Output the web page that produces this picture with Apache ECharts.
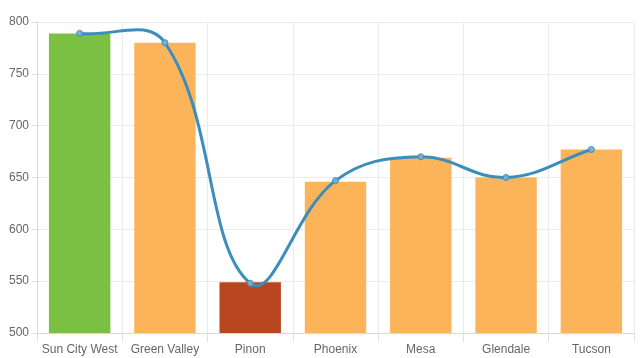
<!DOCTYPE html>
<html><head><meta charset="utf-8">
<script src="https://cdn.jsdelivr.net/npm/echarts@6/dist/echarts.min.js"></script>
<style>html,body{margin:0;padding:0;background:#fff}#c{width:640px;height:358px}</style>
</head><body><div id="c"></div>
<script>
var categories = ["Sun City West","Green Valley","Pinon","Phoenix","Mesa","Glendale","Tucson"];
var barValues = [789, 780, 549, 646, 669, 650, 677];
var lineValues = [789, 780, 548, 647, 670, 650, 677];
var barColors = ["#7bc043","#fbb45a","#b9461f","#fbb45a","#fbb45a","#fbb45a","#fbb45a"];
var yTicks = {min:500, max:800, interval:50};
var tension = 0.4;
var lineColor = '#3c8dbc';

function pt(api, i){ var c = api.coord([i, lineValues[i]]); return {x:c[0], y:c[1]}; }
function ctrl(api, i){
  var n = lineValues.length;
  var cur = pt(api, i);
  var prev = i > 0 ? pt(api, i-1) : cur;
  var next = i < n-1 ? pt(api, i+1) : cur;
  var d01 = Math.hypot(cur.x-prev.x, cur.y-prev.y);
  var d12 = Math.hypot(next.x-cur.x, next.y-cur.y);
  var s = d01 + d12 || 1;
  var fa = tension*d01/s, fb = tension*d12/s;
  return {
    px: cur.x - fa*(next.x-prev.x), py: cur.y - fa*(next.y-prev.y),
    nx: cur.x + fb*(next.x-prev.x), ny: cur.y + fb*(next.y-prev.y),
    x: cur.x, y: cur.y
  };
}

var chart = echarts.init(document.getElementById('c'));
chart.setOption({
  animation:false,
  grid:{left:37, right:6, top:22, bottom:25, containLabel:false},
  xAxis:{type:'category', data:categories,
    axisLine:{lineStyle:{color:'#d9d9d9'}},
    axisTick:{show:true, interval:0, length:9, lineStyle:{color:'#e0e0e0'}},
    splitLine:{show:true, interval:0, lineStyle:{color:'#ebebeb'}},
    axisLabel:{interval:0, color:'#666', fontSize:12, fontFamily:'Arial, Liberation Sans', margin:11}},
  yAxis:{type:'value', min:yTicks.min, max:yTicks.max, interval:yTicks.interval,
    axisLine:{show:true, lineStyle:{color:'#d9d9d9'}},
    axisTick:{show:true, length:5, lineStyle:{color:'#e0e0e0'}},
    splitLine:{lineStyle:{color:'#ebebeb'}},
    axisLabel:{color:'#666', fontSize:12, fontFamily:'Arial, Liberation Sans', margin:8}},
  series:[
    {type:'bar', data:barValues.map(function(v,i){return {value:v, itemStyle:{color:barColors[i]}};}), barWidth:'72%'},
    {type:'custom', z:3, clip:false,
      data:lineValues.map(function(v,i){return [i, v];}),
      renderItem:function(params, api){
        var i = params.dataIndex;
        if (i >= lineValues.length - 1) return null;
        var a = ctrl(api, i), b = ctrl(api, i+1);
        return {type:'bezierCurve', shape:{x1:a.x, y1:a.y, cpx1:a.nx, cpy1:a.ny, cpx2:b.px, cpy2:b.py, x2:b.x, y2:b.y},
          style:{stroke:lineColor, lineWidth:3, fill:null}};
      }},
    {type:'line', z:4, data:lineValues, symbol:'circle', symbolSize:6,
      lineStyle:{opacity:0},
      itemStyle:{color:'rgba(120,175,210,0.9)', borderColor:lineColor, borderWidth:1}}
  ]
});
</script></body></html>
